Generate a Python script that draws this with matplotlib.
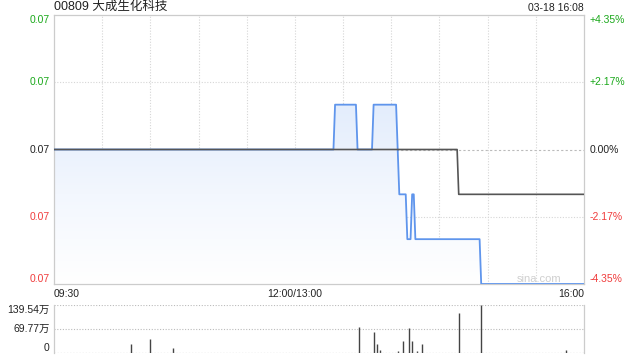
import matplotlib
matplotlib.use("Agg")
import matplotlib.pyplot as plt
import numpy as np
from matplotlib.path import Path
from matplotlib.patches import PathPatch
from matplotlib.colors import LinearSegmentedColormap

plt.rcParams['font.family'] = ['Liberation Sans', 'Noto Sans CJK SC', 'DejaVu Sans']

title = "00809 大成生化科技"
stamp = "03-18 16:08"
prev_close = 0.069

# price change points: (minute index from 09:30, price)
price_min = [0, 174, 175, 188, 189, 198, 199, 213, 214, 215, 219, 220, 222, 223, 224, 225, 265, 266, 330]
price_val = [0.069, 0.069, 0.070, 0.070, 0.069, 0.069, 0.070, 0.070, 0.069, 0.068, 0.068, 0.067,
             0.067, 0.068, 0.068, 0.067, 0.067, 0.066, 0.066]
avg_min = [0, 251, 252, 330]
avg_val = [0.069, 0.069, 0.0680, 0.0680]

vol_min = [48, 60, 74, 190, 199, 201, 203, 214, 217, 221, 223, 226, 229, 252, 266, 319]
vol_val = [26, 41, 15, 76, 61, 26, 9, 7, 35, 73, 35, 7, 26, 116, 139.54, 9]  # 万
vol_max = 139.54

left_labels = ["0.07", "0.07", "0.07", "0.07", "0.07"]
right_labels = ["+4.35%", "+2.17%", "0.00%", "-2.17%", "-4.35%"]
label_colors = ["#1aa81a", "#1aa81a", "#222222", "#f03c3c", "#f03c3c"]
time_labels = ["09:30", "12:00/13:00", "16:00"]
time_pos = [0, 150, 330]
vol_labels = ["139.54万", "69.77万", "0"]

fig = plt.figure(figsize=(6.4, 3.6), dpi=100)
ax = fig.add_axes([54/640, (360-284)/360, 530/640, 269/360])
vax = fig.add_axes([54/640, (360-353)/360, 530/640, 48/360])

rng = 0.003
lo, hi = prev_close - rng, prev_close + rng
ax.set_xlim(0, 330)
ax.set_ylim(lo, hi)

# grid
for m in range(30, 330, 30):
    ax.axvline(m, color="#d6d6d6", lw=0.8, ls=(0, (1, 1.5)), zorder=0)
for y in [prev_close - rng/2, prev_close + rng/2]:
    ax.axhline(y, color="#d6d6d6", lw=0.8, ls=(0, (1, 1.5)), zorder=0)
ax.axhline(prev_close, color="#bbbbbb", lw=0.8, ls=(0, (2, 2)), zorder=0)

# gradient fill under price
xs = np.array(price_min, dtype=float)
ys = np.array(price_val, dtype=float)
verts = [(xs[0], lo)] + list(zip(xs, ys)) + [(xs[-1], lo), (xs[0], lo)]
poly = PathPatch(Path(verts), facecolor="none", edgecolor="none")
ax.add_patch(poly)
grad = np.linspace(0, 1, 256).reshape(-1, 1)
cmap = LinearSegmentedColormap.from_list("g", ["#ffffff", "#f3f7fe", "#e3edfc", "#e3edfc"])
im = ax.imshow(grad, extent=[0, 330, lo, hi], origin="lower", aspect="auto", cmap=cmap, zorder=1)
im.set_clip_path(poly)

ax.plot(price_min, price_val, color="#5f95ec", lw=1.3, zorder=3)
ax.plot(avg_min, avg_val, color="#555555", lw=1.2, zorder=4)

for s in ax.spines.values():
    s.set_color("#cccccc")
    s.set_linewidth(0.9)
ax.set_xticks([])
ax.set_yticks([])

# left/right labels
ticks = [hi, prev_close + rng/2, prev_close, prev_close - rng/2, lo]
ytr = ax.get_yaxis_transform()
for i, (t, l, r, c) in enumerate(zip(ticks, left_labels, right_labels, label_colors)):
    va = "top" if i == 0 else ("bottom" if i == 4 else "center")
    ax.text(-0.008, t, l, transform=ytr, ha="right", va=va, color=c, fontsize=7.5)
    ax.text(1.011, t, r, transform=ytr, ha="left", va=va, color=c, fontsize=7.5)

# titles
fig.text(54/640, 1 - 7/360, title, ha="left", va="center", fontsize=9, color="#222222")
fig.text(584/640, 1 - 8/360, stamp, ha="right", va="center", fontsize=7.5, color="#222222")

# time labels
xtr = ax.get_xaxis_transform()
for p, l in zip(time_pos, time_labels):
    ha = "left" if p == 0 else ("right" if p == 330 else "center")
    ax.text(p, -0.038, l, transform=xtr, ha=ha, va="center", fontsize=7.5, color="#222222")

ax.text(0.915, 0.02, "sina.com", transform=ax.transAxes, ha="center", va="center",
        fontsize=8, color="#cfcfcf", zorder=2)

# volume
vax.set_xlim(0, 330)
vax.set_ylim(0, vol_max)
vax.vlines(vol_min, 0, vol_val, color="#444444", lw=1.0)
vax.axhline(vol_max, color="#bbbbbb", lw=0.8, ls=(0, (1, 1.5)))
vax.axhline(vol_max/2, color="#bbbbbb", lw=0.8, ls=(0, (1, 1.5)))
vax.axhline(0, color="#bbbbbb", lw=0.9, ls=(0, (1, 1.5)))
for k in ["top", "bottom"]:
    vax.spines[k].set_visible(False)
for k in ["left", "right"]:
    vax.spines[k].set_color("#cccccc")
    vax.spines[k].set_linewidth(0.9)
vax.set_xticks([])
vax.set_yticks([])
vytr = vax.get_yaxis_transform()
vax.text(-0.008, vol_max, vol_labels[0], transform=vytr, ha="right", va="top", fontsize=7.5, color="#222222")
vax.text(-0.008, vol_max/2, vol_labels[1], transform=vytr, ha="right", va="center", fontsize=7.5, color="#222222")
vax.text(-0.008, 0, vol_labels[2], transform=vytr, ha="right", va="bottom", fontsize=7.5, color="#222222")

fig.savefig("out.png", dpi=100)
